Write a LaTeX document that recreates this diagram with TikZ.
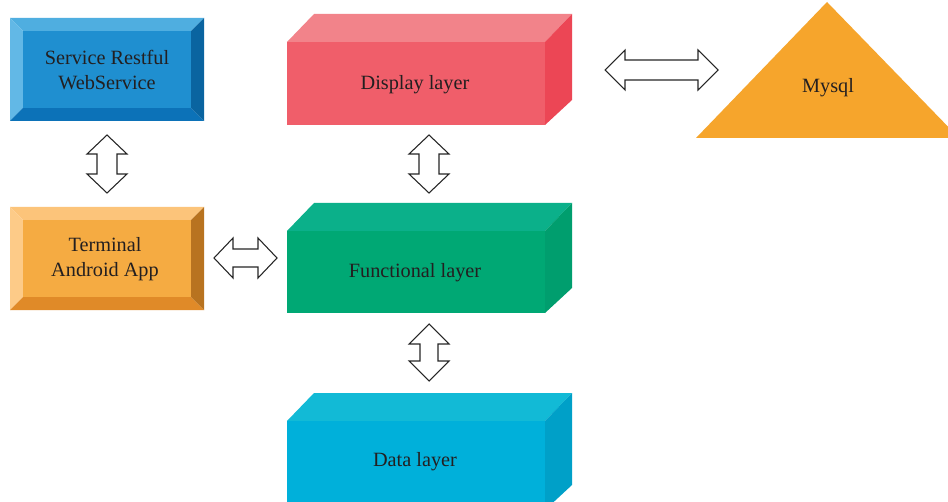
\documentclass[tikz,border=0pt]{standalone}
\usepackage{fontspec}
\setmainfont{Liberation Serif}
\begin{document}
\begin{tikzpicture}[x=0.75pt,y=-0.75pt,
  lbl/.style={text=txtc,font=\fontsize{15.2}{19}\selectfont,align=center,inner sep=0pt},
  dblarrow/.style={draw=black!85,fill=white,line width=0.8pt,line join=miter}]
\definecolor{txtc}{HTML}{231F20}
% blue bevel
\definecolor{bC}{HTML}{1F8FD0}\definecolor{bT}{HTML}{4FAEE0}\definecolor{bL}{HTML}{62B8E6}
\definecolor{bR}{HTML}{0A64A0}\definecolor{bB}{HTML}{0C72B8}
% orange bevel
\definecolor{oC}{HTML}{F5AB42}\definecolor{oT}{HTML}{FCC47A}\definecolor{oL}{HTML}{FDCB88}
\definecolor{oR}{HTML}{B87320}\definecolor{oB}{HTML}{E08A28}
% boxes
\definecolor{rF}{HTML}{F05E6A}\definecolor{rT}{HTML}{F2838A}\definecolor{rR}{HTML}{EC4655}
\definecolor{gF}{HTML}{00A874}\definecolor{gT}{HTML}{0BB08A}\definecolor{gR}{HTML}{009E6E}
\definecolor{cF}{HTML}{00B0DA}\definecolor{cT}{HTML}{12BAD6}\definecolor{cR}{HTML}{00A0C8}
\definecolor{myc}{HTML}{F6A52C}
\useasboundingbox (0,0) rectangle (948,502);
\fill[white] (0,0) rectangle (948,502);
% bevel frame macro: #1 x1, #2 y1, #3 x2, #4 y2, #5 bevel, colours T L R B
\newcommand\BevelBoxB[9]{%
  \fill[#6] (#1,#2) -- (#3,#2) -- (#3-#5,#2+#5) -- (#1+#5,#2+#5) -- cycle;
  \fill[#7] (#1,#2) -- (#1+#5,#2+#5) -- (#1+#5,#4-#5) -- (#1,#4) -- cycle;
  \fill[#9] (#1,#4) -- (#1+#5,#4-#5) -- (#3-#5,#4-#5) -- (#3,#4) -- cycle;
  \fill[#8] (#3,#2) -- (#3,#4) -- (#3-#5,#4-#5) -- (#3-#5,#2+#5) -- cycle;}
% Service box
\BevelBoxB{10}{18}{204}{121}{13}{bT}{bL}{bR}{bB}
\fill[bC] (23,31) rectangle (191,108);
% Terminal box
\BevelBoxB{10}{207}{204}{310}{13}{oT}{oL}{oR}{oB}
\fill[oC] (23,220) rectangle (191,297);
% 3D box macro: #1 left, #2 front top, #3 front right, #4 bottom, colours #5 front #6 top #7 right
\newcommand\CubeBox[7]{%
  \fill[#6] (#1,#2) -- (#1+27,#2-28) -- (#3+27,#2-28) -- (#3,#2) -- cycle;
  \fill[#7] (#3,#2) -- (#3+27,#2-28) -- (#3+27,#4-25) -- (#3,#4) -- cycle;
  \fill[#5] (#1,#2) rectangle (#3,#4);}
\CubeBox{287}{42}{545}{125}{rF}{rT}{rR}
\CubeBox{287}{231}{545}{313}{gF}{gT}{gR}
\CubeBox{287}{421}{545}{510}{cF}{cT}{cR}
% triangle
\fill[myc] (827,2) -- (959,138) -- (696,138) -- cycle;
% labels
\node[lbl] (svc) at (107,70) {Service Restful\\WebService};
\node[lbl] (term) at (105,259) {Terminal\\Android App};
\node[lbl] (disp) at (415,85) {Display layer};
\node[lbl] (func) at (415,273) {Functional layer};
\node[lbl] (data) at (415,462) {Data layer};
\node[lbl] (mysql) at (828,88) {Mysql};
% arrows
\newcommand\HArrow[6]{% x1 x2 y headlen headhalf shafthalf
  \draw[dblarrow] (#1,#3) -- (#1+#4,#3-#5) -- (#1+#4,#3-#6) -- (#2-#4,#3-#6) -- (#2-#4,#3-#5) -- (#2,#3)
    -- (#2-#4,#3+#5) -- (#2-#4,#3+#6) -- (#1+#4,#3+#6) -- (#1+#4,#3+#5) -- cycle;}
\newcommand\VArrow[6]{% y1 y2 x headlen headhalf shafthalf
  \draw[dblarrow] (#3,#1) -- (#3+#5,#1+#4) -- (#3+#6,#1+#4) -- (#3+#6,#2-#4) -- (#3+#5,#2-#4) -- (#3,#2)
    -- (#3-#5,#2-#4) -- (#3-#6,#2-#4) -- (#3-#6,#1+#4) -- (#3-#5,#1+#4) -- cycle;}
\HArrow{605}{718}{70}{20}{20}{10}
\HArrow{214}{277}{258}{19}{20}{9}
\VArrow{135}{193}{107}{19}{20}{10}
\VArrow{135}{193}{429}{19}{20}{10}
\VArrow{324}{381}{429}{20}{20}{9}
\end{tikzpicture}
\end{document}
